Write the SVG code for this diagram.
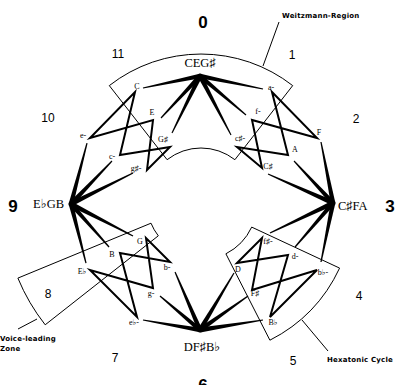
<svg xmlns="http://www.w3.org/2000/svg" width="400" height="385" viewBox="0 0 400 385">
<style>
.region{fill:none;stroke:#000;stroke-width:1}
.lead{stroke:#000;stroke-width:1;fill:none}
.zig{fill:none;stroke:#000;stroke-width:2;stroke-linejoin:miter}
.spoke{fill:#000;stroke:none}
.num{font-family:"Liberation Sans",Arial,sans-serif;font-size:12px;fill:#000;text-anchor:middle}
.big{font-family:"Liberation Sans",Arial,sans-serif;font-size:17px;font-weight:bold;fill:#000;text-anchor:middle}
.hub{font-family:"Liberation Serif","DejaVu Serif",serif;font-size:12.5px;fill:#000}
.nl{font-family:"Liberation Serif","DejaVu Serif",serif;font-size:8px;fill:#000;text-anchor:middle}
.cap{font-family:"DejaVu Sans",Verdana,sans-serif;font-size:7px;font-weight:bold;fill:#000;letter-spacing:0.2px}
</style>
<rect width="400" height="385" fill="#fff"/>

<g id="regions">
<path id="weitzmann-region" class="region" d="M109.3,85.6 A149,149 0 0 1 292.7,85.6 L234.9,159.7 A55,55 0 0 0 167.1,159.7 Z"/>
<path id="voice-leading-zone" class="region" d="M151,223.2 L17.9,278.1 A197,197 0 0 0 45.2,324.8 L158.3,235.8 A53,53 0 0 1 151,223.2 Z"/>
<path id="hexatonic-cycle" class="region" d="M251.7,227.1 L339.6,268.1 A154,154 0 0 1 269.9,340.2 L225.9,253.8 A57,57 0 0 0 251.7,227.1 Z"/>
</g>

<g id="connectors">
<path class="zig" d="M135,92 L120,155 L170,147 L147,170 L153,120 L90,138 Z"/>
<path class="zig" d="M272,92 L317,138 L252,120 L262,168 L237,147 L288,155 Z"/>
<path class="zig" d="M146,238 L153,288 L90,270 L137,317 L120,253 L170,262 Z"/>
<path class="zig" d="M237,263 L262,238 L252,290 L317,270 L270,317 L288,255 Z"/>
<polygon class="spoke" points="199.5,73.7 142.9,87.4 143.1,88.6 200.5,78.3"/>
<polygon class="spoke" points="198.2,74.4 160.6,117.6 161.4,118.4 201.8,77.6"/>
<polygon class="spoke" points="197.8,75 171.5,132.7 172.5,133.3 202.2,77"/>
<polygon class="spoke" points="199.5,78.3 262.9,89.6 263.1,88.4 200.5,73.7"/>
<polygon class="spoke" points="198.5,77.8 245.6,115.5 246.4,114.5 201.5,74.2"/>
<polygon class="spoke" points="197.8,77.1 230.5,135.3 231.5,134.7 202.2,74.9"/>
<polygon class="spoke" points="335.3,202.5 321.6,141.9 320.4,142.1 330.7,203.5"/>
<polygon class="spoke" points="334.8,201.4 294.4,160.6 293.6,161.4 331.2,204.6"/>
<polygon class="spoke" points="334,200.8 268.2,173.5 267.8,174.6 332,205.2"/>
<polygon class="spoke" points="332,200.8 269.7,232.5 270.3,233.5 334,205.2"/>
<polygon class="spoke" points="331.2,201.4 294.6,246.6 295.5,247.4 334.8,204.6"/>
<polygon class="spoke" points="330.7,202.5 320.4,261.9 321.6,262.1 335.3,203.5"/>
<polygon class="spoke" points="202.1,331.2 234.5,273.3 233.5,272.7 197.9,328.8"/>
<polygon class="spoke" points="201.4,332 248.4,296.5 247.7,295.5 198.6,328"/>
<polygon class="spoke" points="200.4,332.4 263.1,320.6 262.9,319.4 199.6,327.6"/>
<polygon class="spoke" points="202.2,329 175.6,271.8 174.5,272.2 197.8,331"/>
<polygon class="spoke" points="201.5,328.2 160.4,295.5 159.6,296.5 198.5,331.8"/>
<polygon class="spoke" points="200.4,327.7 143.1,319.4 142.9,320.6 199.6,332.3"/>
<polygon class="spoke" points="73.3,204.6 87.6,143.2 86.4,142.9 68.7,203.4"/>
<polygon class="spoke" points="72.8,205.7 112.4,161.4 111.6,160.6 69.2,202.3"/>
<polygon class="spoke" points="72,206.2 133.3,173.5 132.7,172.5 70,201.8"/>
<polygon class="spoke" points="69.9,206.2 132.7,236.5 133.3,235.5 72.1,201.8"/>
<polygon class="spoke" points="69.2,205.6 108.6,247.4 109.5,246.6 72.8,202.4"/>
<polygon class="spoke" points="68.7,204.6 85.4,263.2 86.6,262.9 73.3,203.4"/>
<circle cx="200" cy="76" r="2.5"/>
<circle cx="333" cy="203" r="2.5"/>
<circle cx="200" cy="330" r="2.5"/>
<circle cx="71" cy="204" r="2.5"/>
<line class="lead" x1="279" y1="22" x2="263" y2="66"/>
<line class="lead" x1="18" y1="329" x2="37" y2="319"/>
<line class="lead" x1="302" y1="320" x2="328" y2="351"/>
</g>

<g id="hub-CEGs"><text class="hub" x="200" y="67" text-anchor="middle">CEG♯</text></g>
<g id="hub-EbGB"><text class="hub" x="64" y="208" text-anchor="end">E♭GB</text></g>
<g id="hub-CsFA"><text class="hub" x="338" y="210">C♯FA</text></g>
<g id="hub-DFsBb"><text class="hub" x="202" y="351" text-anchor="middle">DF♯B♭</text></g>

<g id="node-C"><text class="nl" x="137" y="89">C</text></g>
<g id="node-E"><text class="nl" x="152" y="115">E</text></g>
<g id="node-Gs"><text class="nl" x="163" y="142">G♯</text></g>
<g id="node-e-"><text class="nl" x="83" y="138">e-</text></g>
<g id="node-c-"><text class="nl" x="112" y="159">c-</text></g>
<g id="node-gs-"><text class="nl" x="136" y="171">g♯-</text></g>

<g id="node-a-"><text class="nl" x="271" y="90">a-</text></g>
<g id="node-f-"><text class="nl" x="258" y="114">f-</text></g>
<g id="node-cs-"><text class="nl" x="240" y="141">c♯-</text></g>
<g id="node-F"><text class="nl" x="319" y="135">F</text></g>
<g id="node-A"><text class="nl" x="295" y="152">A</text></g>
<g id="node-Cs"><text class="nl" x="268" y="169">C♯</text></g>

<g id="node-G"><text class="nl" x="140" y="244">G</text></g>
<g id="node-B"><text class="nl" x="112" y="257">B</text></g>
<g id="node-Eb"><text class="nl" x="82" y="274">E♭</text></g>
<g id="node-b-"><text class="nl" x="167" y="270">b-</text></g>
<g id="node-g-"><text class="nl" x="151" y="296">g-</text></g>
<g id="node-eb-"><text class="nl" x="134" y="325">e♭-</text></g>

<g id="node-fs-"><text class="nl" x="268" y="244">f♯-</text></g>
<g id="node-d-"><text class="nl" x="295" y="259">d-</text></g>
<g id="node-bb-"><text class="nl" x="323" y="275">b♭-</text></g>
<g id="node-D"><text class="nl" x="238" y="272">D</text></g>
<g id="node-Fs"><text class="nl" x="255" y="296">F♯</text></g>
<g id="node-Bb"><text class="nl" x="273" y="325">B♭</text></g>

<g id="hours">
<text class="big" x="203" y="28" font-size="16">0</text>
<text class="num" x="292" y="59">1</text>
<text class="num" x="356" y="123">2</text>
<text class="big" x="390" y="212">3</text>
<text class="num" x="359" y="300">4</text>
<text class="num" x="293" y="365">5</text>
<text class="big" x="203" y="391" font-size="16">6</text>
<text class="num" x="115" y="362">7</text>
<text class="num" x="48" y="298">8</text>
<text class="big" x="13" y="212">9</text>
<text class="num" x="48" y="122">10</text>
<text class="num" x="118" y="58">11</text>
</g>

<g id="captions">
<text class="cap" x="0" y="341">Voice-leading</text>
<text class="cap" x="0" y="351">Zone</text>
<text class="cap" x="282" y="18">Weitzmann-Region</text>
<text class="cap" x="327" y="362">Hexatonic Cycle</text>
</g>
</svg>
